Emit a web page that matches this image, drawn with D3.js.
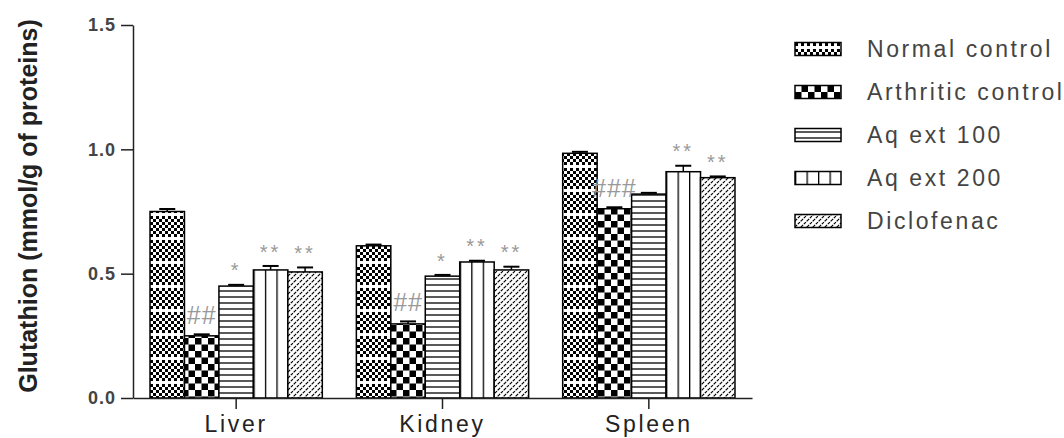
<!DOCTYPE html>
<html>
<head>
<meta charset="utf-8">
<script src="https://cdn.jsdelivr.net/npm/d3@7"></script>
<style>
  body { margin: 0; background: #fff; }
  svg { display: block; font-family: "Liberation Sans", Arial, sans-serif; }
</style>
</head>
<body>
<div id="wrapper"></div>
<script>
const organs = ["Liver", "Kidney", "Spleen"];
const groups = ["Normal control", "Arthritic control", "Aq ext 100", "Aq ext 200", "Diclofenac"];

// mean glutathion per group, one array per organ
const liver = [0.75, 0.25, 0.45, 0.515, 0.507];
const kidney = [0.612, 0.298, 0.49, 0.547, 0.515];
const spleen = [0.984, 0.761, 0.82, 0.91, 0.886];

// error bar (SEM) per group
const liverErr = [0.01, 0.006, 0.005, 0.016, 0.018];
const kidneyErr = [0.005, 0.01, 0.005, 0.005, 0.013];
const spleenErr = [0.006, 0.006, 0.005, 0.024, 0.005];

// significance marks per group
const liverSig = ["", "##", "*", "**", "**"];
const kidneySig = ["", "##", "*", "**", "**"];
const spleenSig = ["", "###", "", "**", "**"];

const yTicks = [0, 0.5, 1.0, 1.5];

const values = [liver, kidney, spleen];
const errors = [liverErr, kidneyErr, spleenErr];
const sigs = [liverSig, kidneySig, spleenSig];

const width = 1064;
const height = 438;

const svg = d3.select("#wrapper")
  .append("svg")
  .attr("width", width)
  .attr("height", height);

const defs = svg.append("defs");

// patterns for each group
let p0 = defs.append("pattern").attr("id", "pat0")
  .attr("patternUnits", "userSpaceOnUse").attr("width", 6).attr("height", 24);
p0.append("rect").attr("width", 6).attr("height", 24).attr("fill", "#fff");
for (let r = 0; r < 7; r++) {
  p0.append("rect").attr("x", (r % 2) * 3).attr("y", r * 3).attr("width", 3).attr("height", 3).attr("fill", "#000");
}

let p1 = defs.append("pattern").attr("id", "pat1")
  .attr("patternUnits", "userSpaceOnUse").attr("width", 13).attr("height", 13);
p1.append("rect").attr("width", 13).attr("height", 13).attr("fill", "#fff");
p1.append("rect").attr("width", 6.5).attr("height", 6.5).attr("fill", "#000");
p1.append("rect").attr("x", 6.5).attr("y", 6.5).attr("width", 6.5).attr("height", 6.5).attr("fill", "#000");

let p2 = defs.append("pattern").attr("id", "pat2")
  .attr("patternUnits", "userSpaceOnUse").attr("width", 10).attr("height", 6);
p2.append("rect").attr("width", 10).attr("height", 6).attr("fill", "#fff");
p2.append("line").attr("x1", 0).attr("x2", 10).attr("y1", 3).attr("y2", 3)
  .attr("stroke", "#000").attr("stroke-width", 1.3);

function vertPattern(id, frac) {
  let p = defs.append("pattern").attr("id", id)
    .attr("patternUnits", "objectBoundingBox").attr("width", frac).attr("height", 1);
  p.append("rect").attr("width", 200).attr("height", 600).attr("fill", "#fff");
  p.append("line").attr("x1", 0).attr("x2", 0).attr("y1", 0).attr("y2", 600)
    .attr("stroke", "#000").attr("stroke-width", 2.6);
}
vertPattern("pat3", 1 / 3);
vertPattern("pat3legend", 1 / 4);

let p4 = defs.append("pattern").attr("id", "pat4")
  .attr("patternUnits", "userSpaceOnUse").attr("width", 6).attr("height", 6);
p4.append("rect").attr("width", 6).attr("height", 6).attr("fill", "#fff");
p4.append("path").attr("d", "M0,6 L6,0 M-1,1 L1,-1 M5,7 L7,5")
  .attr("stroke", "#000").attr("stroke-width", 1.2).attr("stroke-dasharray", "3,1");

const fills = ["url(#pat0)", "url(#pat1)", "url(#pat2)", "url(#pat3)", "url(#pat4)"];
const legendFills = ["url(#pat0)", "url(#pat1)", "url(#pat2)", "url(#pat3legend)", "url(#pat4)"];

// scales
const yScale = d3.scaleLinear().domain([0, 1.5]).range([398, 25]);

const xScale = d3.scaleBand()
  .domain(organs)
  .range([133, 752])
  .paddingInner(0.165)
  .paddingOuter(0.0825);

const xInner = d3.scaleBand()
  .domain(groups)
  .range([0, xScale.bandwidth()]);

// bars
const barData = [];
organs.forEach((organ, i) => {
  groups.forEach((g, j) => {
    barData.push({ organ, group: g, gi: j, value: values[i][j], err: errors[i][j], sig: sigs[i][j] });
  });
});

const bars = svg.append("g");

bars.selectAll("rect")
  .data(barData)
  .join("rect")
  .attr("x", d => xScale(d.organ) + xInner(d.group))
  .attr("y", d => yScale(d.value))
  .attr("width", xInner.bandwidth())
  .attr("height", d => yScale(0) - yScale(d.value))
  .attr("fill", d => fills[d.gi])
  .attr("stroke", "#000")
  .attr("stroke-width", 1.5);

// error bars
const errG = svg.append("g").attr("stroke", "#000").attr("stroke-width", 1.5);
errG.selectAll("line.stem")
  .data(barData)
  .join("line")
  .attr("class", "stem")
  .attr("x1", d => xScale(d.organ) + xInner(d.group) + xInner.bandwidth() / 2)
  .attr("x2", d => xScale(d.organ) + xInner(d.group) + xInner.bandwidth() / 2)
  .attr("y1", d => yScale(d.value))
  .attr("y2", d => yScale(d.value + d.err));
errG.selectAll("line.cap")
  .data(barData)
  .join("line")
  .attr("class", "cap")
  .attr("x1", d => xScale(d.organ) + xInner(d.group) + xInner.bandwidth() / 2 - 8)
  .attr("x2", d => xScale(d.organ) + xInner(d.group) + xInner.bandwidth() / 2 + 8)
  .attr("y1", d => yScale(d.value + d.err))
  .attr("y2", d => yScale(d.value + d.err))
  .attr("stroke-width", 2);

// significance marks
svg.append("g")
  .selectAll("text")
  .data(barData.filter(d => d.sig !== ""))
  .join("text")
  .attr("x", d => xScale(d.organ) + xInner(d.group) + xInner.bandwidth() / 2)
  .attr("y", d => {
    let c = yScale(d.value + d.err) - 19;
    return d.sig[0] === "#" ? c + 0.35 * 25 : c + 0.58 * 20;
  })
  .attr("text-anchor", "middle")
  .attr("font-size", d => d.sig[0] === "#" ? 25 : 20)
  .attr("letter-spacing", d => d.sig[0] === "#" ? 1 : 3)
  .attr("fill", "#999")
  .text(d => d.sig);

// y axis
const yAxis = svg.append("g")
  .attr("transform", "translate(133,0)")
  .call(d3.axisLeft(yScale).tickValues(yTicks).tickFormat(d3.format(".1f")).tickSize(12).tickSizeOuter(0).tickPadding(5));
yAxis.selectAll("path, line").attr("stroke", "#222").attr("stroke-width", 1.5);
yAxis.selectAll("text")
  .attr("font-size", 18)
  .attr("font-weight", "bold")
  .attr("letter-spacing", 1)
  .attr("fill", "#444")
  .attr("font-family", "Liberation Sans, Arial, sans-serif");

// x axis
const xAxis = svg.append("g")
  .attr("transform", "translate(0,398)")
  .call(d3.axisBottom(xScale).tickSize(11).tickSizeOuter(0));
xAxis.selectAll("path, line").attr("stroke", "#222").attr("stroke-width", 1.5);
xAxis.selectAll("text")
  .attr("y", 18)
  .attr("dy", "0.71em")
  .attr("font-size", 23)
  .attr("letter-spacing", 2.7)
  .attr("fill", "#222")
  .attr("font-family", "Liberation Sans, Arial, sans-serif");

// y title
svg.append("text")
  .attr("transform", "translate(37,206) rotate(-90)")
  .attr("text-anchor", "middle")
  .attr("font-size", 25)
  .attr("font-weight", "bold")
  .attr("fill", "#222")
  .text("Glutathion (mmol/g of proteins)");

// legend
const legend = svg.append("g").attr("transform", "translate(795,49)");
const rows = legend.selectAll("g")
  .data(groups)
  .join("g")
  .attr("transform", (d, i) => `translate(0, ${i * 43})`);
rows.append("rect")
  .attr("x", 0)
  .attr("y", -6.5)
  .attr("width", 46)
  .attr("height", 13)
  .attr("fill", (d, i) => legendFills[i])
  .attr("stroke", "#000")
  .attr("stroke-width", 1.5);
rows.append("text")
  .attr("x", 72)
  .attr("y", 8)
  .attr("font-size", 23)
  .attr("letter-spacing", 2.6)
  .attr("fill", "#444")
  .text(d => d);
</script>
</body>
</html>
